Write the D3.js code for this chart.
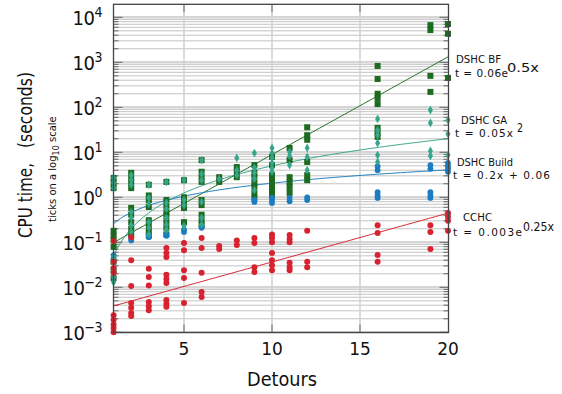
<!DOCTYPE html>
<html>
<head>
<meta charset="utf-8">
<script src="https://cdn.jsdelivr.net/npm/d3@7/dist/d3.min.js"></script>
<style>
  body { margin: 0; background: #fff; }
  svg { display: block; }
  text { font-family: "DejaVu Sans", sans-serif; fill: #111; }
</style>
</head>
<body>
<div id="chart"></div>
<script>
// detour counts that have measurements
const detours = [1, 2, 3, 4, 5, 6, 7, 8, 9, 10, 11, 12, 16, 19, 20];

// CPU time (s) per detour count, one inner array per entry of `detours`
const bfTimes = [
  [2.7, 2.1, 1.6, 0.18, 0.14, 0.11, 0.079, 0.037, 0.024, 0.016],
  [3.5, 2.7, 2.1, 1.6, 0.58, 0.41, 0.28, 0.2, 0.15],
  [1.9, 1.1, 0.87, 0.61, 0.31, 0.23, 0.17, 0.14],
  [2.2, 0.87, 0.64, 0.47, 0.38, 0.28, 0.21, 0.15],
  [2.4, 1.0, 0.79, 0.58, 0.28],
  [6.7, 3.7, 2.8, 2.2, 0.87, 0.67, 0.41, 0.31, 0.24],
  [2.8, 2.2],
  [4.7, 3.7, 2.8],
  [5.2, 3.5, 2.8, 2.1, 1.7, 1.25, 0.97],
  [7.9, 5.2, 3.1, 2.4, 1.9, 1.45, 1.1],
  [12.5, 6.7, 2.8, 2.2, 1.7, 1.25],
  [36, 24, 19, 6.1, 3.1, 2.4],
  [830, 425, 200, 160, 118, 35, 27, 22],
  [6700, 5200, 500, 220],
  [7100, 4300, 450]
];
const gaTimes = [
  [2.7, 2.1, 1.6, 0.047, 0.035, 0.024, 0.017, 0.013],
  [3.1, 2.4, 1.9, 0.47, 0.35, 0.24, 0.17],
  [1.9, 0.97, 0.71, 0.28, 0.21, 0.15],
  [2.2, 0.75, 0.55, 0.35, 0.25, 0.19],
  [2.4, 0.87, 0.67, 0.23],
  [6.7, 3.3, 2.4, 0.79, 0.35, 0.25],
  [2.55],
  [7.5, 4.0, 3.1],
  [9.6, 4.5, 3.5, 2.55, 1.45],
  [12.5, 9.6, 7.5, 5.8, 4.5, 3.7],
  [10.2, 8.3, 5.2],
  [12.5, 7.9, 4.0],
  [55, 31, 24, 16, 8.7, 6.1],
  [87, 45, 10.7, 8.3],
  [52, 25.5, 8.7]
];
const buildTimes = [
  [0.052, 0.045],
  [0.125, 0.11],
  [0.145, 0.13],
  [0.15, 0.14],
  [0.19, 0.17],
  [0.23, 0.21],
  [],
  [],
  [0.87, 0.79],
  [0.97, 0.87, 0.75],
  [0.97, 0.82],
  [1.0, 0.87],
  [4.9, 4.0, 1.3, 1.1, 0.97],
  [5.2, 4.3, 1.3, 1.1, 0.97],
  [5.8, 4.9, 4.3, 3.7]
];
const cchcTimes = [
  [0.107, 0.037, 0.027, 0.021, 0.0024, 0.0019, 0.0015, 0.00125, 0.001],
  [0.13, 0.04, 0.0107, 0.0045, 0.0035, 0.0027, 0.0023],
  [0.026, 0.017, 0.011, 0.0047, 0.0038, 0.0031],
  [0.075, 0.058, 0.047, 0.019, 0.0153, 0.0125, 0.0052, 0.0043, 0.0037],
  [0.096, 0.067, 0.024, 0.016, 0.0045],
  [0.125, 0.075, 0.021, 0.0079, 0.0061],
  [0.083, 0.071],
  [0.11, 0.087],
  [0.125, 0.096, 0.028, 0.022],
  [0.15, 0.125, 0.1, 0.058, 0.04, 0.031, 0.024],
  [0.145, 0.118, 0.1, 0.035, 0.028, 0.024],
  [0.18, 0.037, 0.028],
  [0.24, 0.16, 0.052, 0.037],
  [0.24, 0.17, 0.071],
  [0.45, 0.37, 0.3, 0.18]
];

// fitted curves, coefficients as printed next to each series
const bfFit = [0.06, 0.5];      // a * e^(b x)
const gaFit = [0.05, 2];        // a * x^b
const buildFit = [0.2, 0.06];   // a * x + b
const cchcFit = [0.003, 0.25];  // a * e^(b x)

const seriesNames = ["DSHC BF", "DSHC GA", "DSHC Build", "CCHC"];
const fitLabels = [["t = 0.06e", "0.5x"], ["t = 0.05x", "2"], ["t = 0.2x + 0.06", ""], ["t = 0.003e", "0.25x"]];
const xTicks = [5, 10, 15, 20];
const yDecades = [-3, -2, -1, 0, 1, 2, 3, 4];

const width = 562, height = 394;
const colors = ["#1d6b1f", "#35a58b", "#1b7dc1", "#d8222f"];

const svg = d3.select("#chart").append("svg")
  .attr("width", width)
  .attr("height", height);

const x = d3.scaleLinear().domain([1, 20]).range([113.6, 448]);
const y = d3.scaleLog().domain([1e-3, Math.pow(10, 4.289)]).range([332.3, 4.3]);
const [x0, x1] = [113.5, 448.5];
const [yb, yt] = [332.5, 4.3];

// horizontal grid: minor lines and decade lines
const gridVals = [];
yDecades.forEach(d => {
  for (let m = 1; m <= 9; m++) {
    const v = m * Math.pow(10, d);
    if (v <= y.domain()[1]) gridVals.push({ v: v, major: m === 1 });
  }
});
svg.append("g").selectAll("line")
  .data(gridVals)
  .join("line")
  .attr("x1", x0).attr("x2", x1)
  .attr("y1", d => y(d.v)).attr("y2", d => y(d.v))
  .attr("stroke", d => d.major ? "#d6d6d6" : "#c4c4c4")
  .attr("stroke-width", d => d.major ? 2.5 : 1);

// vertical grid
svg.append("g").selectAll("line")
  .data(xTicks.slice(0, 3))
  .join("line")
  .attr("x1", d => x(d)).attr("x2", d => x(d))
  .attr("y1", yt).attr("y2", yb)
  .attr("stroke", "#d0d0d0")
  .attr("stroke-width", 1.5);

// inward ticks on the frame
const tickG = svg.append("g").attr("stroke", "#666").attr("stroke-width", 1);
tickG.selectAll(".lt")
  .data(gridVals)
  .join("line")
  .attr("x1", x0).attr("x2", d => x0 + (d.major ? 9 : 5))
  .attr("y1", d => y(d.v)).attr("y2", d => y(d.v));
tickG.selectAll(".rt")
  .data(gridVals)
  .join("line")
  .attr("x1", x1).attr("x2", d => x1 - (d.major ? 9 : 5))
  .attr("y1", d => y(d.v)).attr("y2", d => y(d.v));
tickG.selectAll(".tt")
  .data(xTicks.slice(0, 3))
  .join("line")
  .attr("x1", d => x(d)).attr("x2", d => x(d))
  .attr("y1", yt).attr("y2", yt + 8);
tickG.selectAll(".bt")
  .data(xTicks.slice(0, 3))
  .join("line")
  .attr("x1", d => x(d)).attr("x2", d => x(d))
  .attr("y1", yb).attr("y2", yb - 8);

// fitted curves
const fitX = d3.range(1, 20.01, 0.1);
const fitFns = [
  t => bfFit[0] * Math.exp(bfFit[1] * t),
  t => gaFit[0] * Math.pow(t, gaFit[1]),
  t => buildFit[0] * t + buildFit[1],
  t => cchcFit[0] * Math.exp(cchcFit[1] * t)
];
const line = d3.line().x(d => x(d[0])).y(d => y(d[1]));
fitFns.forEach((f, i) => {
  svg.append("path")
    .attr("d", line(fitX.map(t => [t, f(t)])))
    .attr("fill", "none")
    .attr("stroke", colors[i])
    .attr("stroke-width", 1);
});

// flatten a series into points
function points(times) {
  const out = [];
  times.forEach((col, i) => col.forEach(v => out.push([detours[i], v])));
  return out;
}

// DSHC BF: squares
svg.append("g").selectAll("rect")
  .data(points(bfTimes))
  .join("rect")
  .attr("x", d => x(d[0]) - 3).attr("y", d => y(d[1]) - 3)
  .attr("width", 6).attr("height", 6)
  .attr("fill", colors[0]);

// DSHC Build: circles
svg.append("g").selectAll("circle")
  .data(points(buildTimes))
  .join("circle")
  .attr("cx", d => x(d[0])).attr("cy", d => y(d[1]))
  .attr("r", 2.9)
  .attr("fill", colors[2]);

// DSHC GA: diamonds
const diamond = d3.symbol().type(d3.symbolDiamond).size(22);
svg.append("g").selectAll("path")
  .data(points(gaTimes))
  .join("path")
  .attr("d", diamond)
  .attr("transform", d => `translate(${x(d[0])},${y(d[1])})`)
  .attr("fill", colors[1]);

// CCHC: circles
svg.append("g").selectAll("circle")
  .data(points(cchcTimes))
  .join("circle")
  .attr("cx", d => x(d[0])).attr("cy", d => y(d[1]))
  .attr("r", 3)
  .attr("fill", colors[3]);

// frame
svg.append("rect")
  .attr("x", x0).attr("y", yt)
  .attr("width", x1 - x0).attr("height", yb - yt)
  .attr("fill", "none")
  .attr("stroke", "#444")
  .attr("stroke-width", 1.3);

// y tick labels
const yl = svg.append("g").selectAll("text")
  .data(yDecades)
  .join("text")
  .attr("x", 102)
  .attr("y", d => y(Math.pow(10, d)) + 8)
  .attr("text-anchor", "end")
  .style("font-size", "20px")
  .style("font-stretch", "condensed")
  .style("letter-spacing", "-0.5px");
yl.append("tspan").text("10");
yl.append("tspan")
  .attr("dy", -8)
  .style("font-size", "14px")
  .text(d => d < 0 ? "\u2212" + (-d) : String(d));

// x tick labels
svg.append("g").selectAll("text")
  .data(xTicks)
  .join("text")
  .attr("x", d => x(d))
  .attr("y", 355)
  .attr("text-anchor", "middle")
  .style("font-size", "17px")
  .text(d => d);

// axis titles
svg.append("text")
  .attr("x", 282).attr("y", 386)
  .attr("text-anchor", "middle")
  .attr("textLength", 70)
  .attr("lengthAdjust", "spacingAndGlyphs")
  .style("font-size", "19px")
  .text("Detours");

svg.append("text")
  .attr("transform", "translate(32,238) rotate(-90)")
  .attr("textLength", 75)
  .attr("lengthAdjust", "spacingAndGlyphs")
  .style("font-size", "20px")
  .text("CPU time,");
svg.append("text")
  .attr("transform", "translate(32,148) rotate(-90)")
  .attr("textLength", 76)
  .attr("lengthAdjust", "spacingAndGlyphs")
  .style("font-size", "20px")
  .text("(seconds)");

const small = svg.append("text")
  .attr("transform", "translate(56,222) rotate(-90)")
  .style("font-size", "10px");
small.append("tspan").text("ticks on a log");
small.append("tspan").attr("dy", 3).style("font-size", "8px").text("10");
small.append("tspan").attr("dy", -3).text(" scale");

// series annotations on the right
const annotPos = [
  { name: [456, 63, 45], eq: [455, 77, 53], sup: [507, 72, 32] },
  { name: [461, 124, 46], eq: [455, 137, 58], sup: [517, 132, 6] },
  { name: [457, 165.5, 56], eq: [453, 178.5, 97], sup: null },
  { name: [463, 221, 29], eq: [453, 236, 69], sup: [523, 231, 31] }
];
annotPos.forEach((p, i) => {
  const g = svg.append("g").style("font-size", "10.5px");
  g.append("text")
    .attr("x", p.name[0]).attr("y", p.name[1])
    .attr("textLength", p.name[2]).attr("lengthAdjust", "spacingAndGlyphs")
    .text(seriesNames[i]);
  g.append("text")
    .attr("x", p.eq[0]).attr("y", p.eq[1])
    .attr("textLength", p.eq[2]).attr("lengthAdjust", "spacing")
    .text(fitLabels[i][0]);
  if (p.sup) {
    g.append("text")
      .attr("x", p.sup[0]).attr("y", p.sup[1])
      .attr("textLength", p.sup[2]).attr("lengthAdjust", "spacingAndGlyphs")
      .style("font-size", "12.5px")
      .text(fitLabels[i][1]);
  }
});
</script>
</body>
</html>
